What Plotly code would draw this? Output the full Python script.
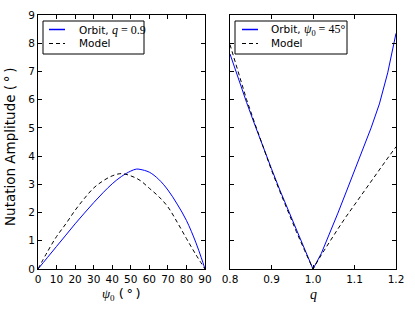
import plotly.graph_objects as go

# ---- Left panel: amplitude vs psi_0 (q = 0.9) ----
psi_orbit = [0, 5, 10, 15, 20, 25, 30, 35, 40, 45, 50, 53, 55, 60, 65, 70, 75, 80, 85, 88, 90]
amp_orbit_psi = [0, 0.40, 0.80, 1.20, 1.60, 1.98, 2.35, 2.70, 3.02, 3.28, 3.47, 3.54, 3.53, 3.43, 3.18, 2.80, 2.30, 1.72, 0.95, 0.40, 0]
psi_model = [0, 5, 10, 15, 20, 25, 30, 35, 40, 45, 50, 55, 60, 65, 70, 75, 80, 85, 90]
amp_model_psi = [0, 0.60, 1.15, 1.60, 2.08, 2.50, 2.87, 3.12, 3.30, 3.38, 3.30, 3.14, 2.86, 2.57, 2.20, 1.66, 1.08, 0.52, 0]

# ---- Right panel: amplitude vs q (psi_0 = 45 deg) ----
q_vals = [0.80, 0.82, 0.84, 0.86, 0.88, 0.90, 0.92, 0.94, 0.96, 0.98, 1.00,
          1.02, 1.04, 1.06, 1.08, 1.10, 1.12, 1.14, 1.16, 1.18, 1.20]
amp_orbit_q = [7.62, 6.75, 5.90, 5.10, 4.30, 3.55, 2.80, 2.10, 1.38, 0.68, 0,
               0.55, 1.25, 1.98, 2.73, 3.50, 4.25, 5.00, 5.85, 6.95, 8.35]
amp_model_q = [7.95, 6.95, 6.00, 5.15, 4.30, 3.50, 2.75, 2.02, 1.32, 0.65, 0,
               0.50, 0.98, 1.42, 1.86, 2.28, 2.70, 3.10, 3.52, 3.93, 4.33]

left_ticks = [0, 10, 20, 30, 40, 50, 60, 70, 80, 90]
right_ticks = [0.8, 0.9, 1.0, 1.1, 1.2]
right_ticktext = ["0.8", "0.9", "1.0", "1.1", "1.2"]
y_ticks = [0, 1, 2, 3, 4, 5, 6, 7, 8, 9]

W, H = 415, 312
SERIF = "'Liberation Serif', 'DejaVu Serif', serif"
SANS = "'DejaVu Sans', sans-serif"
BLUE = "#0000ff"
DASH = "4px,3px"

def mi(s, size=None):
    fs = f";font-size:{size}px" if size else ""
    return f"<span style=\"font-family:{SERIF};font-style:italic{fs}\">{s}</span>"

def mr(s, size=None):
    fs = f";font-size:{size}px" if size else ""
    return f"<span style=\"font-family:{SERIF}{fs}\">{s}</span>"

def px(x):
    return x / W

def py(y):
    return 1 - y / H

fig = go.Figure()
fig.add_trace(go.Scatter(x=psi_orbit, y=amp_orbit_psi, mode="lines",
                         line=dict(color=BLUE, width=1, shape="spline", smoothing=1),
                         name="Orbit, q=0.9", xaxis="x", yaxis="y", showlegend=False))
fig.add_trace(go.Scatter(x=psi_model, y=amp_model_psi, mode="lines",
                         line=dict(color="black", width=1, dash=DASH, shape="spline", smoothing=1),
                         name="Model", xaxis="x", yaxis="y", showlegend=False))
fig.add_trace(go.Scatter(x=q_vals, y=amp_orbit_q, mode="lines",
                         line=dict(color=BLUE, width=1),
                         name="Orbit, psi0=45", xaxis="x2", yaxis="y2", showlegend=False))
fig.add_trace(go.Scatter(x=q_vals, y=amp_model_q, mode="lines",
                         line=dict(color="black", width=1, dash=DASH),
                         name="Model", xaxis="x2", yaxis="y2", showlegend=False))

axis_common = dict(showline=True, linecolor="black", linewidth=1, mirror="allticks",
                   ticks="inside", ticklen=4, tickwidth=1, tickcolor="black",
                   showgrid=False, zeroline=False, automargin=False,
                   tickfont=dict(family=SANS, size=10.5, color="black"))

fig.update_layout(
    width=W, height=H,
    margin=dict(l=0, r=0, t=0, b=0),
    paper_bgcolor="white", plot_bgcolor="white",
    font=dict(family=SANS, size=10, color="black"),
    xaxis=dict(domain=[px(38), px(205)], range=[0, 90], tickvals=left_ticks, anchor="y",
               **axis_common),
    yaxis=dict(domain=[py(269), py(15)], range=[0, 9], tickvals=y_ticks, anchor="x",
               **axis_common),
    xaxis2=dict(domain=[px(230), px(396)], range=[0.8, 1.2], tickvals=right_ticks,
                ticktext=right_ticktext, anchor="y2", **axis_common),
    yaxis2=dict(domain=[py(269), py(15)], range=[0, 9], tickvals=y_ticks, anchor="x2",
                showticklabels=False, **axis_common),
    showlegend=False,
)

# axis titles
fig.add_annotation(x=px(10), y=py(147), xref="paper", yref="paper", textangle=-90,
                   text="Nutation Amplitude (\u2009°\u2009)", showarrow=False,
                   font=dict(family=SANS, size=13.5, color="black"),
                   xanchor="center", yanchor="middle")
fig.add_annotation(x=px(121), y=py(294), xref="paper", yref="paper",
                   text=mi("ψ") + mr("<sub>0</sub>") + " (\u2009°\u2009)", showarrow=False,
                   font=dict(family=SANS, size=13, color="black"),
                   xanchor="center", yanchor="middle")
fig.add_annotation(x=px(313), y=py(294), xref="paper", yref="paper",
                   text=mi("q"), showarrow=False,
                   font=dict(family=SERIF, size=14, color="black"),
                   xanchor="center", yanchor="middle")

# legends (drawn as boxes, sample lines and labels)
legends = [
    dict(box=(43, 21, 144, 54), line_x=(49, 65), text_x=77,
         labels=["Orbit, " + mi("q", 12) + mr(" = 0.9", 12), "Model"]),
    dict(box=(235, 21, 347, 54), line_x=(242, 258), text_x=269,
         labels=["Orbit, " + mi("ψ", 12) + mr("<sub>0</sub> = 45°", 12), "Model"]),
]
row_y = [29.5, 43.5]
styles = [dict(color=BLUE, width=1.5), dict(color="black", width=1, dash=DASH)]
for lg in legends:
    x0, y0, x1, y1 = lg["box"]
    fig.add_shape(type="rect", xref="paper", yref="paper",
                  x0=px(x0), x1=px(x1), y0=py(y1), y1=py(y0),
                  line=dict(color="black", width=1), fillcolor="white", layer="above")
    for ry, st, lab in zip(row_y, styles, lg["labels"]):
        fig.add_shape(type="line", xref="paper", yref="paper",
                      x0=px(lg["line_x"][0]), x1=px(lg["line_x"][1]), y0=py(ry), y1=py(ry),
                      line=st, layer="above")
        fig.add_annotation(x=px(lg["text_x"]), y=py(ry), xref="paper", yref="paper",
                           text=lab, showarrow=False, xanchor="left", yanchor="middle",
                           font=dict(family=SANS, size=10.5, color="black"))

fig.write_html("out.html", config={"displayModeBar": False},
               post_script="document.body.style.margin='0';document.body.style.padding='0';")
